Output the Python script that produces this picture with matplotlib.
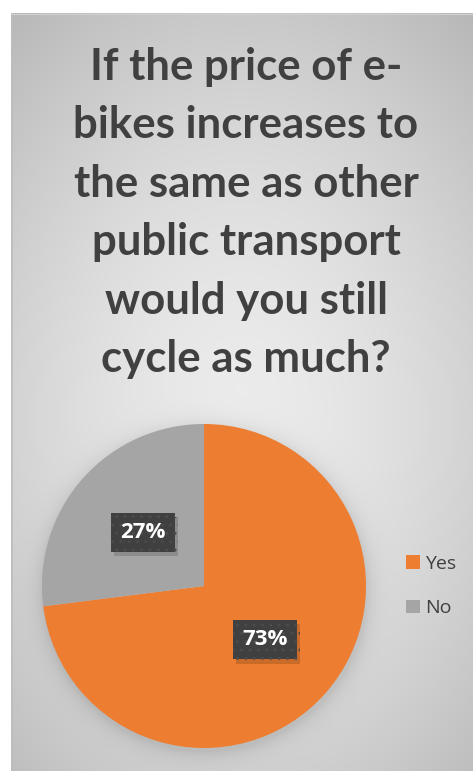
import numpy as np
import matplotlib
matplotlib.use("Agg")
import matplotlib.pyplot as plt
from matplotlib.patches import Patch
import matplotlib.patheffects as pe

# Survey answers
categories = ["Yes", "No"]
shares = [73, 27]
colors = ["#ED7D31", "#A5A5A5"]
title_lines = [
    "If the price of e-",
    "bikes increases to",
    "the same as other",
    "public transport",
    "would you still",
    "cycle as much?",
]

W, H, DPI = 473, 771, 100
fig = plt.figure(figsize=(W / DPI, H / DPI), dpi=DPI)
fig.patch.set_facecolor("white")

# Chart area background: soft radial grey gradient with a pie shadow
x0, y0 = 11, 13
bg = fig.add_axes([x0 / W, 0, (W - x0) / W, (H - y0) / H])
bg.set_axis_off()
yy, xx = np.mgrid[y0:H, x0:W].astype(float)
cx, cy = 240.0, 420.0
r = np.sqrt(((xx - cx) / 300.0) ** 2 + ((yy - cy) / 430.0) ** 2)
val = 0.925 - 0.15 * np.clip(r, 0, 1.3) ** 1.6
pcx, pcy, pr = 204.0, 589.0, 162.0
d = np.sqrt((xx - pcx) ** 2 + (yy - pcy) ** 2)
shadow = np.where(d > pr, np.exp(-(d - pr) / 9.0), 1.0)
val = val - 0.09 * shadow
img = np.dstack([val, val, val])
bg.imshow(img, extent=[0, 1, 0, 1], aspect="auto", interpolation="bilinear")
bg.set_xlim(0, 1)
bg.set_ylim(0, 1)
# thin border on the left and top edges
bg.plot([0.0015, 0.0015], [0, 1], color="#bdbdbd", lw=1.2)
bg.plot([0, 1], [0.9985, 0.9985], color="#d0d0d0", lw=0.8)

# Title, one line at a time
for i, line in enumerate(title_lines):
    fig.text(
        246 / W, 1 - (80 + i * 58.4) / H, line,
        ha="center", va="baseline", fontsize=31.5, fontweight="bold",
        color="#404040", family="Lato",
    )

# Pie
pc_x, pc_y, rad = 204, 586, 162
ax = fig.add_axes([(pc_x - rad) / W, (H - pc_y - rad) / H, 2 * rad / W, 2 * rad / H])
wedges, texts, autotexts = ax.pie(
    shares, colors=colors, startangle=90, counterclock=False,
    autopct="%1.0f%%", pctdistance=0.5, radius=1.0,
    wedgeprops=dict(linewidth=0),
    textprops=dict(color="white", fontsize=16, fontweight="bold", family="Open Sans"),
)
for t in autotexts:
    t.set_bbox(dict(boxstyle="square,pad=0.42", fc="#404040", ec="#4b4b4b",
                    lw=0, hatch=".."))
    t.get_bbox_patch().set_path_effects([
        pe.SimplePatchShadow(offset=(2, -3), shadow_rgbFace="black", alpha=0.15),
        pe.Normal(),
    ])
ax.set_xlim(-1, 1)
ax.set_ylim(-1, 1)
ax.set_aspect("equal")
ax.set_axis_off()

# Legend
handles = [Patch(facecolor=c, edgecolor="none", label=l) for c, l in zip(colors, categories)]
fig.legend(
    handles=handles, loc="center left", bbox_to_anchor=(406 / W, 1 - 586 / H),
    frameon=False, labelcolor="#404040", handlelength=0.7,
    handleheight=0.7, handletextpad=0.3, labelspacing=1.35,
    borderpad=0, borderaxespad=0,
    prop=dict(family="Open Sans", size=14),
)

fig.savefig("out.png", dpi=DPI, facecolor=fig.get_facecolor())
